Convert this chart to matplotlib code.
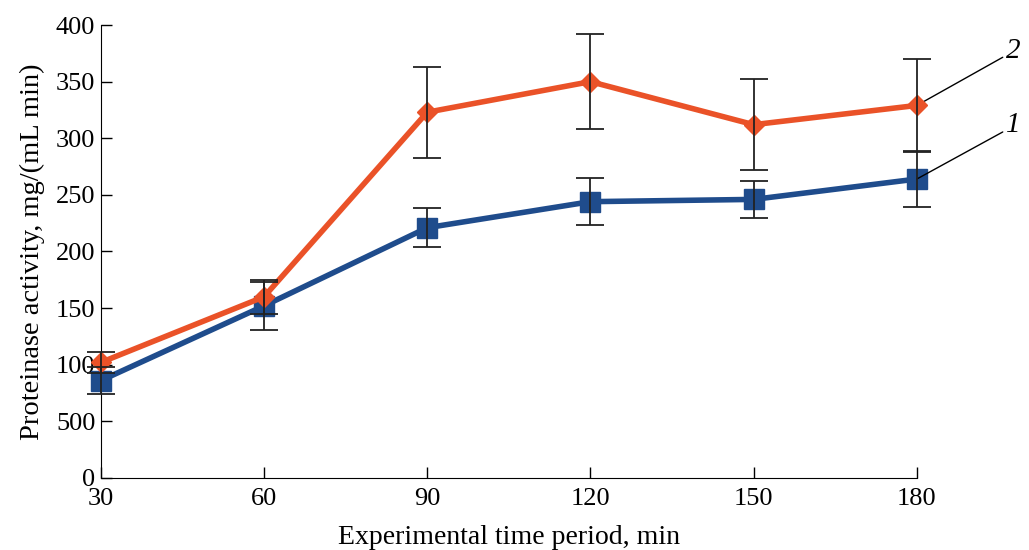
import matplotlib
matplotlib.use('Agg')
from matplotlib import pyplot as plt

plt.rcParams['font.family'] = ['Liberation Serif', 'DejaVu Serif']

time = [30, 60, 90, 120, 150, 180]
series1 = [86, 152, 221, 244, 246, 264]
err1 = [12, 21, 17, 21, 16, 25]
series2 = [102, 160, 323, 350, 312, 329]
err2 = [9, 15, 40, 42, 40, 41]
yticks = [0, 50, 100, 150, 200, 250, 300, 350, 400]
ytick_labels = ['0', '500', '100', '150', '200', '250', '300', '350', '400']

fig = plt.figure(figsize=(10.29, 5.5), dpi=100)
ax = fig.add_axes([0.098, 0.131, 0.793, 0.8235])

ax.plot(time, series1, color='#1f4c8c', lw=4, marker='s', ms=14.5, clip_on=False, zorder=3)
ax.plot(time, series2, color='#ea5228', lw=4, marker='D', ms=10.5, clip_on=False, zorder=4)
ax.errorbar(time, series1, yerr=err1, fmt='none', ecolor='#222222', elinewidth=1.3,
            capsize=10, capthick=1.3, clip_on=False, zorder=5)
ax.errorbar(time, series2, yerr=err2, fmt='none', ecolor='#222222', elinewidth=1.3,
            capsize=10, capthick=1.3, clip_on=False, zorder=5)

# leader lines for series numbers
ax.annotate('2', xy=(time[-1], series2[-1]), xytext=(196.3, 366), fontsize=21, style='italic',
            va='bottom', ha='left',
            arrowprops=dict(arrowstyle='-', color='black', lw=1, shrinkA=0, shrinkB=0,
                            relpos=(0, 0.3)),
            annotation_clip=False)
ax.annotate('1', xy=(time[-1], series1[-1]), xytext=(196.3, 300), fontsize=21, style='italic',
            va='bottom', ha='left',
            arrowprops=dict(arrowstyle='-', color='black', lw=1, shrinkA=0, shrinkB=0,
                            relpos=(0, 0.3)),
            annotation_clip=False)

ax.set_xlim(30, 180)
ax.set_ylim(0, 400)
ax.set_xticks(time)
ax.set_yticks(yticks)
ax.set_yticklabels(ytick_labels)
ax.tick_params(direction='in', length=8, width=1, labelsize=19, pad=4)
ax.tick_params(axis='x', pad=7)
ax.spines['top'].set_visible(False)
ax.spines['right'].set_visible(False)
ax.set_xlabel('Experimental time period, min', fontsize=20, labelpad=11)
ax.set_ylabel('Proteinase activity, mg/(mL min)', fontsize=20.5, labelpad=8)

fig.savefig('out.png', dpi=100)
